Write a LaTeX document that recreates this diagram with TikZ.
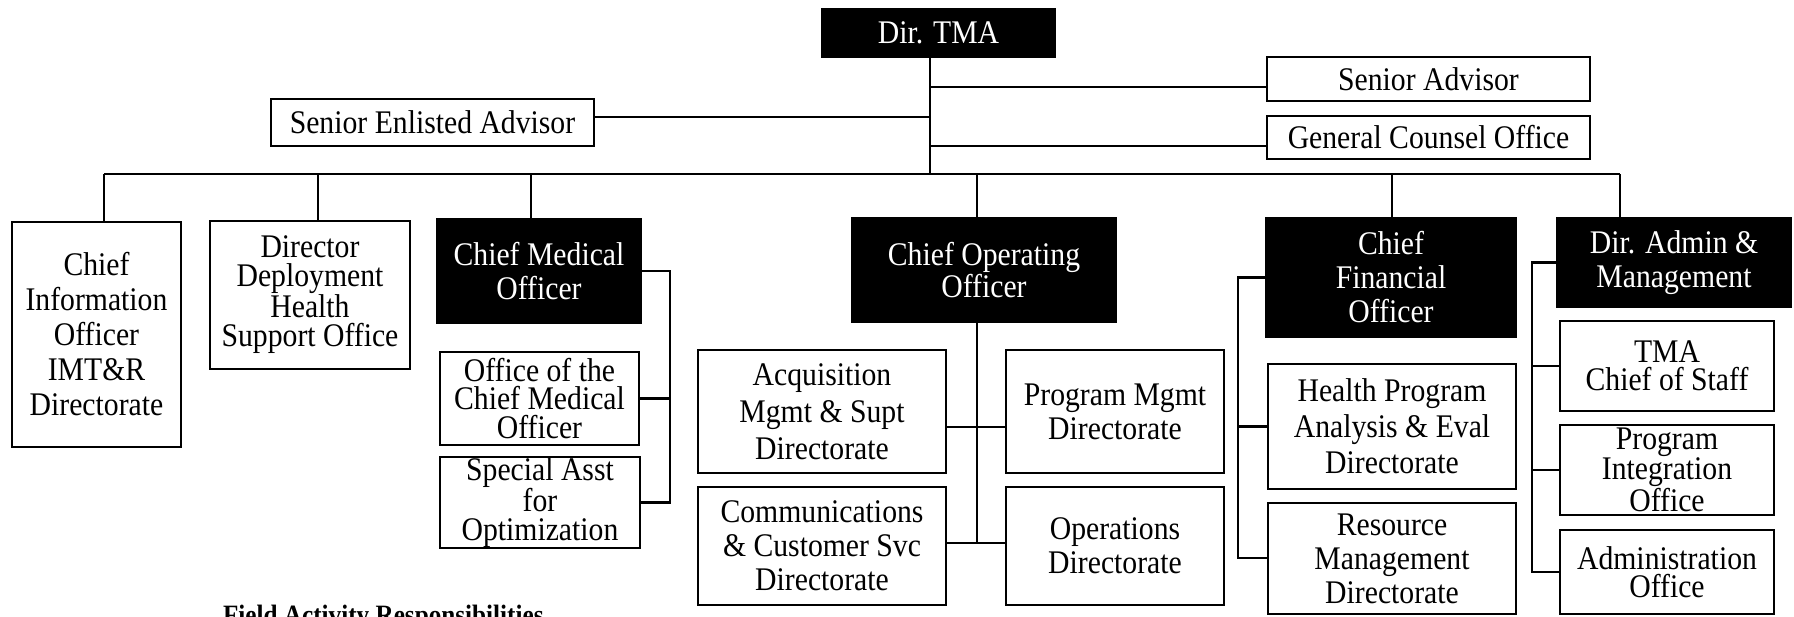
\documentclass[tikz,border=0pt]{standalone}
\usepackage{fontspec}
\setmainfont{Liberation Serif}[FakeStretch=0.9]
\begin{document}
\begin{tikzpicture}[x=1pt,y=-1pt,
  every node/.style={font=\fontsize{33}{34}\selectfont, align=center, inner sep=0pt, outer sep=0pt},
  wbox/.style={draw=black, line width=2.6pt, fill=white, text=black},
  bbox/.style={draw=black, line width=2.6pt, fill=black, text=white},
  conn/.style={draw=black, line width=2.6pt},
  tight/.style={font=\fontsize{33}{28.5}\selectfont}
]
\useasboundingbox (0,0) rectangle (1794,616);
\clip (0,0) rectangle (1794,616);

% top level
\node[bbox, minimum width=233pt, minimum height=48pt] (dir) at (938.5,33) {Dir. TMA};
\node[wbox, minimum width=323pt, minimum height=44pt] (sa) at (1428.5,79) {Senior Advisor};
\node[wbox, minimum width=323pt, minimum height=43pt] (gco) at (1428.5,137.5) {General Counsel Office};
\node[wbox, minimum width=323pt, minimum height=47pt] (sea) at (432.5,122.5) {Senior Enlisted Advisor};

% second level
\node[wbox, minimum width=169pt, minimum height=225pt, font=\fontsize{33}{35}\selectfont] (cio) at (96.5,334.5) {Chief\\Information\\Officer\\IMT\&R\\Directorate};
\node[wbox, minimum width=200pt, minimum height=148pt, font=\fontsize{33}{29}\selectfont] (ddh) at (310,295) {Director\\Deployment\\Health\\Support Office};
\node[bbox, minimum width=204pt, minimum height=104pt] (cmo) at (539,271) {Chief Medical\\Officer};
\node[bbox, minimum width=264pt, minimum height=104pt, font=\fontsize{33}{30}\selectfont] (coo) at (984,270) {Chief Operating\\Officer};
\node[bbox, minimum width=250pt, minimum height=119pt] (cfo) at (1391,277.5) {Chief\\Financial\\Officer};
\node[bbox, minimum width=234pt, minimum height=89pt] (dam) at (1674,262.5) {Dir. Admin \&\\Management};

% CMO staff
\node[wbox, tight, minimum width=199pt, minimum height=93pt] (ocmo) at (539.5,398.5) {Office of the\\Chief Medical\\Officer};
\node[wbox, tight, minimum width=200pt, minimum height=91pt] (sao) at (540,502.5) {Special Asst\\for\\Optimization};

% COO directorates
\node[wbox, minimum width=248pt, minimum height=123pt, font=\fontsize{33}{37}\selectfont] (amsd) at (822,411.5) {Acquisition\\Mgmt \& Supt\\Directorate};
\node[wbox, minimum width=218pt, minimum height=123pt] (pmd) at (1115,411.5) {Program Mgmt\\Directorate};
\node[wbox, minimum width=248pt, minimum height=118pt] (ccsd) at (822,546) {Communications\\\& Customer Svc\\Directorate};
\node[wbox, minimum width=218pt, minimum height=118pt] (od) at (1115,546) {Operations\\Directorate};

% CFO directorates
\node[wbox, minimum width=248pt, minimum height=125pt, font=\fontsize{33}{36}\selectfont] (hpae) at (1392,426.5) {Health Program\\Analysis \& Eval\\Directorate};
\node[wbox, minimum width=248pt, minimum height=111pt] (rmd) at (1392,558.5) {Resource\\Management\\Directorate};

% DAM offices
\node[wbox, tight, minimum width=214pt, minimum height=90pt] (tcos) at (1667,366) {TMA\\Chief of Staff};
\node[wbox, tight, minimum width=214pt, minimum height=90pt] (pio) at (1667,470) {Program\\Integration\\Office};
\node[wbox, tight, minimum width=214pt, minimum height=84pt] (ao) at (1667,572) {Administration\\Office};

% caption (cut off by the lower edge, as in the original)
\node[anchor=base west, font=\fontsize{28}{30}\selectfont\bfseries] (far) at (223,624) {Field Activity Responsibilities};

% coordinates
\coordinate (tr) at (930,174);
\coordinate (jsa) at (930,87);
\coordinate (jsea) at (930,117);
\coordinate (jgco) at (930,146);
\coordinate (d1) at (104,174);
\coordinate (d2) at (318,174);
\coordinate (d3) at (531,174);
\coordinate (d4) at (977,174);
\coordinate (d5) at (1392,174);
\coordinate (d6) at (1620,174);
\coordinate (sp1) at (670,0);
\coordinate (ca) at (977,427);
\coordinate (cb) at (977,543);
\coordinate (fr) at (1238,558);
\coordinate (ms) at (1532,0);

% top connectors
\draw[conn] (dir.south -| tr) -- (tr);
\draw[conn] (jsa) -- (jsa -| sa.west);
\draw[conn] (jsea) -- (jsea -| sea.east);
\draw[conn] (jgco) -- (jgco -| gco.west);
\draw[conn] (d1) -- (d6);
\draw[conn] (d1) -- (d1 |- cio.north);
\draw[conn] (d2) -- (d2 |- ddh.north);
\draw[conn] (d3) -- (d3 |- cmo.north);
\draw[conn] (d4) -- (d4 |- coo.north);
\draw[conn] (d5) -- (d5 |- cfo.north);
\draw[conn] (d6) -- (d6 |- dam.north);

% CMO group
\draw[conn] (cmo.east) -| (sp1 |- sao.east) -- (sao.east);
\draw[conn] (ocmo.east) -- (ocmo.east -| sp1);

% COO group
\draw[conn] (coo.south -| ca) -- (cb);
\draw[conn] (ca -| amsd.east) -- (ca -| pmd.west);
\draw[conn] (cb -| ccsd.east) -- (cb -| od.west);

% CFO group
\draw[conn] (cfo.west) -| (fr) -- (fr -| rmd.west);
\draw[conn] (hpae.west) -- (hpae.west -| fr);

% DAM group
\draw[conn] (dam.west) -| (ms |- ao.west) -- (ao.west);
\draw[conn] (tcos.west) -- (tcos.west -| ms);
\draw[conn] (pio.west) -- (pio.west -| ms);
\end{tikzpicture}
\end{document}
